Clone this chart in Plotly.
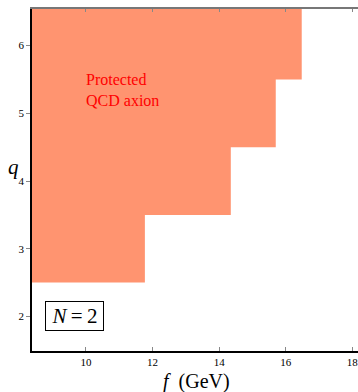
import plotly.graph_objects as go

# Step boundaries of the protected region
step_f = [11.77, 14.35, 15.70, 16.48]   # f (GeV) where q-threshold steps up
step_q = [2.5, 3.5, 4.5, 5.5, 6.5]       # q levels of the lower edge
x_ticks = [10, 12, 14, 16, 18]
y_ticks = [2, 3, 4, 5, 6]

x_range = [8.38, 18.17]
y_range = [1.49, 6.54]

# build polygon of the step region
xs = [x_range[0] - 1]
ys = [step_q[0]]
for i, f in enumerate(step_f):
    xs += [f, f]
    ys += [step_q[i], step_q[i + 1]]
top = y_range[1] + 1
xs += [step_f[-1], x_range[0] - 1]
ys += [top, top]

serif = "Liberation Serif"
fig = go.Figure()
fig.add_trace(go.Scatter(x=xs, y=ys, fill="toself", mode="lines",
                         line=dict(width=0, color="rgb(255,148,112)"),
                         fillcolor="rgb(255,148,112)", hoverinfo="skip",
                         showlegend=False))

fig.update_layout(
    width=358, height=392,
    margin=dict(l=32, r=0, t=9, b=41, autoexpand=False),
    paper_bgcolor="white", plot_bgcolor="white",
    showlegend=False,
    xaxis=dict(range=x_range, tickvals=x_ticks, ticks="inside", ticklen=4,
               tickcolor="#888", showgrid=False, zeroline=False,
               showline=True, linecolor="black", linewidth=1.5, mirror=False,
               automargin=False, ticklabeloverflow="allow",
               tickfont=dict(family=serif, size=11, color="black")),
    yaxis=dict(range=y_range, tickvals=y_ticks, ticks="outside", ticklen=4,
               tickcolor="#888", showgrid=False, zeroline=False,
               showline=True, linecolor="black", linewidth=1.5,
               automargin=False, ticklabeloverflow="allow",
               tickfont=dict(family=serif, size=11, color="black")),
    xaxis2=dict(overlaying="x", side="top", range=x_range, tickvals=x_ticks,
                ticks="inside", ticklen=3, tickcolor="#888",
                showticklabels=False, showline=True, linecolor="#777",
                linewidth=1.5, showgrid=False, zeroline=False,
                automargin=False),
)
# dummy trace to show top axis
fig.add_trace(go.Scatter(x=[None], y=[None], xaxis="x2", showlegend=False))

fig.add_annotation(x=9.94, y=5.35, xref="x", yref="y", xanchor="left",
                   yanchor="middle", align="left", showarrow=False,
                   text="Protected<br>QCD axion",
                   font=dict(family=serif, size=16, color="red"))
fig.add_annotation(x=9.67, y=2.0, xref="x", yref="y", showarrow=False,
                   text="<i>N</i>\u2009=\u20092", bordercolor="black",
                   borderwidth=1, borderpad=2, width=53, height=24,
                   bgcolor="white",
                   font=dict(family=serif, size=21, color="black"))
fig.add_annotation(x=(13 - 32) / 326, y=(351 - 167) / 342, xref="paper",
                   yref="paper", xanchor="center", yanchor="middle",
                   showarrow=False, text="<i>q</i>",
                   font=dict(family=serif, size=21, color="black"))
fig.add_annotation(x=(196 - 32) / 326, y=(351 - 381) / 342, xref="paper",
                   yref="paper", xanchor="center", yanchor="middle",
                   showarrow=False,
                   text="<i>f</i>\u2002(GeV)",
                   font=dict(family=serif, size=20, color="black"))

fig.write_html("out.html", config={"displayModeBar": False},
               post_script="document.body.style.margin='0';"
                           "document.body.style.overflow='hidden';")
